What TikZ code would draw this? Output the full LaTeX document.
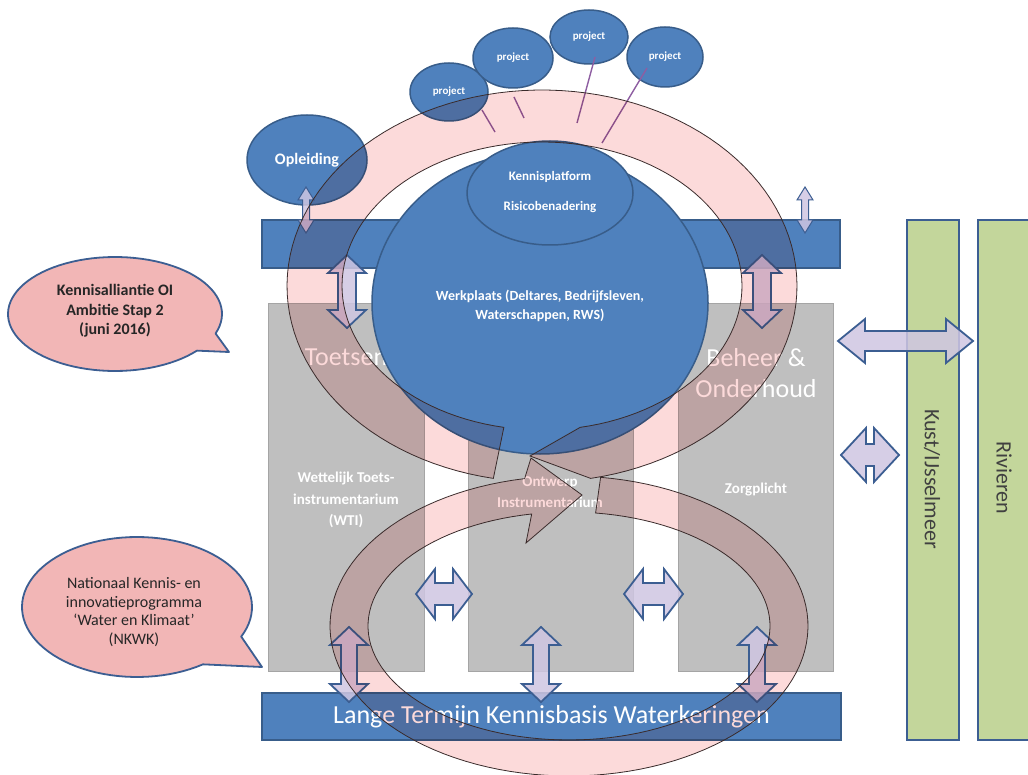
\documentclass[tikz,border=0pt]{standalone}
\usepackage{fontspec}
\setmainfont{Carlito}
\usetikzlibrary{shapes.geometric}
\definecolor{blueF}{HTML}{4F81BD}
\definecolor{blueD}{HTML}{385D8A}
\definecolor{grayF}{HTML}{BFBFBF}
\definecolor{grayD}{HTML}{A5A5A5}
\definecolor{greenF}{HTML}{C3D69B}
\definecolor{edgeB}{HTML}{3C5E92}
\definecolor{pinkF}{HTML}{F2B6B6}
\definecolor{ringF}{HTML}{FCDADA}
\definecolor{ringD}{HTML}{3A2B2B}
\definecolor{lavF}{HTML}{CFC6E2}
\definecolor{projL}{HTML}{8E5EA2}
\definecolor{txtD}{HTML}{262626}
\definecolor{txtK}{HTML}{404040}
\newcommand\myvarrow[7][]{%
  \filldraw[dblarrow,#1] (#2,#3) -- ({#2+#5},{#3+#7}) -- ({#2+#6},{#3+#7}) -- ({#2+#6},{#4-#7}) -- ({#2+#5},{#4-#7}) -- (#2,#4) -- ({#2-#5},{#4-#7}) -- ({#2-#6},{#4-#7}) -- ({#2-#6},{#3+#7}) -- ({#2-#5},{#3+#7}) -- cycle;}
\newcommand\myharrow[7][]{%
  \filldraw[dblarrow,#1] (#3,#2) -- ({#3+#7},{#2-#5}) -- ({#3+#7},{#2-#6}) -- ({#4-#7},{#2-#6}) -- ({#4-#7},{#2-#5}) -- (#4,#2) -- ({#4-#7},{#2+#5}) -- ({#4-#7},{#2+#6}) -- ({#3+#7},{#2+#6}) -- ({#3+#7},{#2+#5}) -- cycle;}
\begin{document}
\begin{tikzpicture}[x=1pt,y=-1pt,
  bluerect/.style={draw=blueD, fill=blueF, line width=1.5pt, inner sep=0pt},
  grayrect/.style={draw=grayD, fill=grayF, line width=0.6pt, inner sep=0pt},
  greenrect/.style={draw=edgeB, fill=greenF, line width=2pt, inner sep=0pt},
  blueell/.style={ellipse, draw=blueD, fill=blueF, line width=1.5pt, inner sep=0pt},
  wtext/.style={text=white, inner sep=0pt, align=center},
  dblarrow/.style={fill=lavF, draw=edgeB, line width=1.8pt, line join=miter, fill opacity=0.85},
  thinarrow/.style={line width=1pt},
  bubble/.style={fill=pinkF, draw=edgeB, line width=1.8pt, line join=round},
  ringline/.style={draw=ringD, line width=0.8pt},
  projline/.style={draw=projL, line width=1.4pt}]
\useasboundingbox (0,0) rectangle (1028,775);
\fill[white] (0,0) rectangle (1028,775);

% gray columns
\node[grayrect, minimum width=156, minimum height=368] (boxL) at (346,487) {};
\node[grayrect, minimum width=165, minimum height=368] (boxM) at (550.5,487) {};
\node[grayrect, minimum width=155, minimum height=368] (boxR) at (755.5,487) {};
\node[wtext, font=\fontsize{26}{31}\selectfont] (toets) at (346,357) {Toetsen};
\node[wtext, font=\fontsize{26}{31}\selectfont] (beheer) at (756,373) {Beheer \&\\Onderhoud};
\node[wtext, font=\bfseries\fontsize{15}{21.5}\selectfont] (wti) at (346,500) {Wettelijk Toets-\\instrumentarium\\(WTI)};
\node[wtext, font=\bfseries\fontsize{15}{21}\selectfont] (ontw) at (550,492) {Ontwerp\\Instrumentarium};
\node[wtext, font=\bfseries\fontsize{15}{21}\selectfont] (zorg) at (756,490) {Zorgplicht};

% bars
\node[bluerect, minimum width=578, minimum height=48] (topbar) at (551,244) {};
\node[bluerect, minimum width=579, minimum height=47, text=white, font=\fontsize{26}{30}\selectfont] (botbar) at (551.5,716.5) {Lange Termijn Kennisbasis Waterkeringen};

% green bars
\node[greenrect, minimum width=52, minimum height=520] (kust) at (933,480) {};
\node[rotate=-90, inner sep=0pt, text=txtK, font=\fontsize{22}{26}\selectfont] (kusttxt) at (932,479) {Kust/IJsselmeer};
\node[greenrect, minimum width=54, minimum height=520] (riv) at (1005,480) {};
\node[rotate=-90, inner sep=0pt, text=txtK, font=\fontsize{22}{26}\selectfont] (rivtxt) at (1004,478) {Rivieren};

% callouts
\path[bubble] plot[domain=40:380, samples=90, variable=\t] ({115+107*cos(\t)},{314+57*sin(\t)}) -- (229,352) -- cycle;
\node[inner sep=0pt, align=center, text=txtD, font=\bfseries\fontsize{16}{19.5}\selectfont] (c1) at (115,311) {Kennisalliantie OI\\Ambitie Stap 2\\(juni 2016)};
\path[bubble] plot[domain=55:385, samples=90, variable=\t] ({137+115*cos(\t)},{607+70*sin(\t)}) -- (262,667) -- cycle;
\node[inner sep=0pt, align=center, text=txtD, font=\fontsize{16}{18.5}\selectfont] (c2) at (134,612) {Nationaal Kennis- en\\innovatieprogramma\\‘Water en Klimaat’\\(NKWK)};

% satellites
\node[blueell, minimum width=120, minimum height=90, text=white, font=\bfseries\fontsize{16}{19}\selectfont] (opl) at (307,160) {Opleiding};
\node[blueell, minimum width=78, minimum height=58, text=white, font=\bfseries\fontsize{11}{13}\selectfont] (p1) at (449,92) {project};
\node[blueell, minimum width=80, minimum height=60, text=white, font=\bfseries\fontsize{11}{13}\selectfont] (p2) at (513,58) {project};
\node[blueell, minimum width=78, minimum height=54, text=white, font=\bfseries\fontsize{11}{13}\selectfont] (p3) at (589,37) {project};
\node[blueell, minimum width=76, minimum height=60, text=white, font=\bfseries\fontsize{11}{13}\selectfont] (p4) at (665,57) {project};
\coordinate (l1a) at (482,110); \coordinate (l1b) at (495,132);
\coordinate (l2a) at (514,97);  \coordinate (l2b) at (524,118);
\coordinate (l3a) at (595,57);  \coordinate (l3b) at (577,123);
\coordinate (l4a) at (647,68);  \coordinate (l4b) at (602,143);
\draw[projline] (l1a) -- (l1b);
\draw[projline] (l2a) -- (l2b);
\draw[projline] (l3a) -- (l3b);
\draw[projline] (l4a) -- (l4b);

% central circle
\node[blueell, minimum width=336, minimum height=302] (werk) at (540,303) {};
\node[wtext, font=\bfseries\fontsize{14}{19}\selectfont] (werktxt) at (540,306) {Werkplaats (Deltares, Bedrijfsleven,\\Waterschappen, RWS)};
\node[blueell, minimum width=166, minimum height=104] (kp) at (550,193) {};
\node[wtext, font=\bfseries\fontsize{13}{30}\selectfont] (kptxt) at (550,192) {Kennisplatform\\Risicobenadering};

% double arrows
\myvarrow[thinarrow]{306}{187}{233}{8}{3.5}{13}
\myvarrow[thinarrow]{805}{187}{233}{8}{3.5}{13}
\myvarrow{347}{255}{328}{19}{9}{18}
\myvarrow{762}{255}{328}{19}{9}{18}
\myvarrow{349}{627}{702}{19}{8}{18}
\myvarrow{541}{627}{702}{19}{8}{18}
\myvarrow{757}{627}{702}{19}{8}{18}
\myharrow{594}{416}{472}{25}{11}{19}
\myharrow{594}{624}{683}{25}{11}{19}
\myharrow{455}{841}{899}{27}{11}{25}
\myharrow{341}{838}{973}{22}{10}{27}

% circular arrows
\path[save path=\ringUpperP] plot[domain=101:439, samples=120, variable=\t] ({542+255*cos(\t)},{286+196*sin(\t)}) -- (530,456) -- plot[domain=439:101, samples=120, variable=\t] ({542+200*cos(\t)},{286+144*sin(\t)}) -- cycle;
\path[save path=\ringLowerP] plot[domain=277.6:619.3, samples=120, variable=\t] ({569+239*cos(\t)},{626+150*sin(\t)}) -- (531,458) -- (582,495) -- (526,543) -- plot[domain=619.3:277.6, samples=120, variable=\t] ({569+201*cos(\t)},{626+114*sin(\t)}) -- cycle;
\begin{scope}[blend mode=multiply]
\fill[ringF, use path=\ringUpperP];
\fill[ringF, use path=\ringLowerP];
\end{scope}
\draw[ringline, use path=\ringUpperP];
\draw[ringline, use path=\ringLowerP];
\end{tikzpicture}
\end{document}
